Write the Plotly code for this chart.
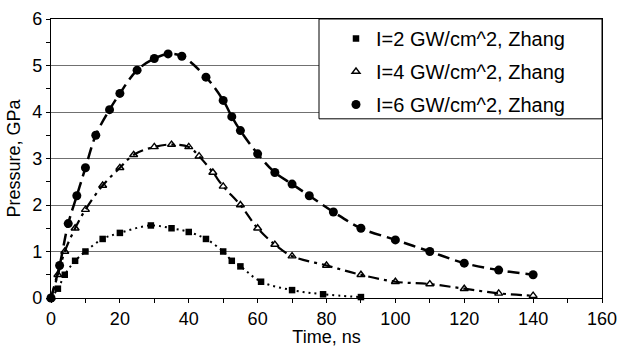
import plotly.graph_objects as go

# ---- data ----
t2 = [0, 2, 4, 7, 10, 15, 20, 29, 35, 40, 45, 50, 52.5, 55, 61, 70, 79, 90]
p2 = [0, 0.2, 0.5, 0.8, 1.0, 1.27, 1.4, 1.56, 1.5, 1.42, 1.27, 1.0, 0.8, 0.68, 0.35, 0.17, 0.08, 0.02]

t4 = [0, 2, 4, 7, 10, 15, 20, 24, 30, 35, 40, 43, 47, 50, 55, 60, 65, 70, 80, 90, 100, 110, 120, 130, 140]
p4 = [0, 0.5, 1.0, 1.5, 1.9, 2.42, 2.8, 3.08, 3.25, 3.3, 3.25, 3.05, 2.7, 2.4, 2.0, 1.5, 1.15, 0.9, 0.7, 0.5, 0.35, 0.3, 0.2, 0.1, 0.05]

t6 = [0, 2.5, 5, 7.5, 10, 13, 17, 20, 25, 30, 34, 38, 45, 50, 52.5, 55, 60, 65, 70, 75, 82, 90, 100, 110, 120, 130, 140]
p6 = [0, 0.7, 1.6, 2.2, 2.8, 3.5, 4.05, 4.4, 4.9, 5.15, 5.25, 5.2, 4.75, 4.25, 3.9, 3.6, 3.1, 2.7, 2.45, 2.2, 1.85, 1.5, 1.25, 1.0, 0.75, 0.6, 0.5]

names = ["I=2 GW/cm^2, Zhang", "I=4 GW/cm^2, Zhang", "I=6 GW/cm^2, Zhang"]

FONT = "Arial, Liberation Sans, sans-serif"

fig = go.Figure()

series = [
    (t2, p2, names[0], dict(symbol="square", size=6.5, color="black"), "2px,4px", 2),
    (t4, p4, names[1], dict(symbol="triangle-up-open", size=7, color="black", line=dict(width=1.4, color="black")), "11px,5px,3px,5px", 2.2),
    (t6, p6, names[2], dict(symbol="circle", size=9, color="black"), "12px,6px", 2.5),
]

# smooth fitted lines (no legend)
for x, y, n, m, dash, w in series:
    fig.add_trace(go.Scatter(x=x, y=y, mode="lines", line=dict(color="black", width=w, dash=dash, shape="spline", smoothing=1.0),
                             showlegend=False, hoverinfo="skip", cliponaxis=False))
# markers (legend)
for x, y, n, m, dash, w in series:
    fig.add_trace(go.Scatter(x=x, y=y, mode="markers", marker=m, name=n, cliponaxis=False, legendgroup=n))

L, R, T, B = 51, 602, 19, 298.5
W = R - L
H = B - T

# legend box
fig.add_shape(type="rect", xref="paper", yref="paper", x0=(319 - L) / W, x1=1.0, y0=1 - 100 / H, y1=1.0,
              line=dict(color="black", width=1), fillcolor="white", layer="above")

fig.update_layout(
    width=618, height=347,
    margin=dict(l=L, r=618 - R, t=T, b=347 - B),
    paper_bgcolor="white", plot_bgcolor="white",
    font=dict(family=FONT, size=18, color="black"),
    legend=dict(x=(336 - L) / W, y=1, xanchor="left", yanchor="top",
                font=dict(size=20, family=FONT), bgcolor="rgba(0,0,0,0)", borderwidth=0,
                tracegroupgap=4),
    xaxis=dict(range=[0, 160], dtick=20, tick0=0, showline=True, linecolor="black", linewidth=1.3, mirror=True,
               ticks="outside", ticklen=4, tickcolor="black", showgrid=False, zeroline=False, automargin=False,
               minor=dict(dtick=10, ticks="outside", ticklen=4, tickcolor="black", showgrid=False),
               title=dict(text="Time, ns", font=dict(size=18), standoff=2),
               tickfont=dict(size=18)),
    yaxis=dict(range=[0, 6], dtick=1, tick0=0, showline=True, linecolor="black", linewidth=1.3, mirror=True,
               ticks="outside", ticklen=4, tickcolor="black", showgrid=True, gridcolor="#707070", gridwidth=1,
               zeroline=False, automargin=False,
               minor=dict(dtick=0.5, ticks="outside", ticklen=4, tickcolor="black", showgrid=False),
               title=dict(text="Pressure, GPa", font=dict(size=18), standoff=6),
               tickfont=dict(size=18)),
)

fig.write_html("out.html")
